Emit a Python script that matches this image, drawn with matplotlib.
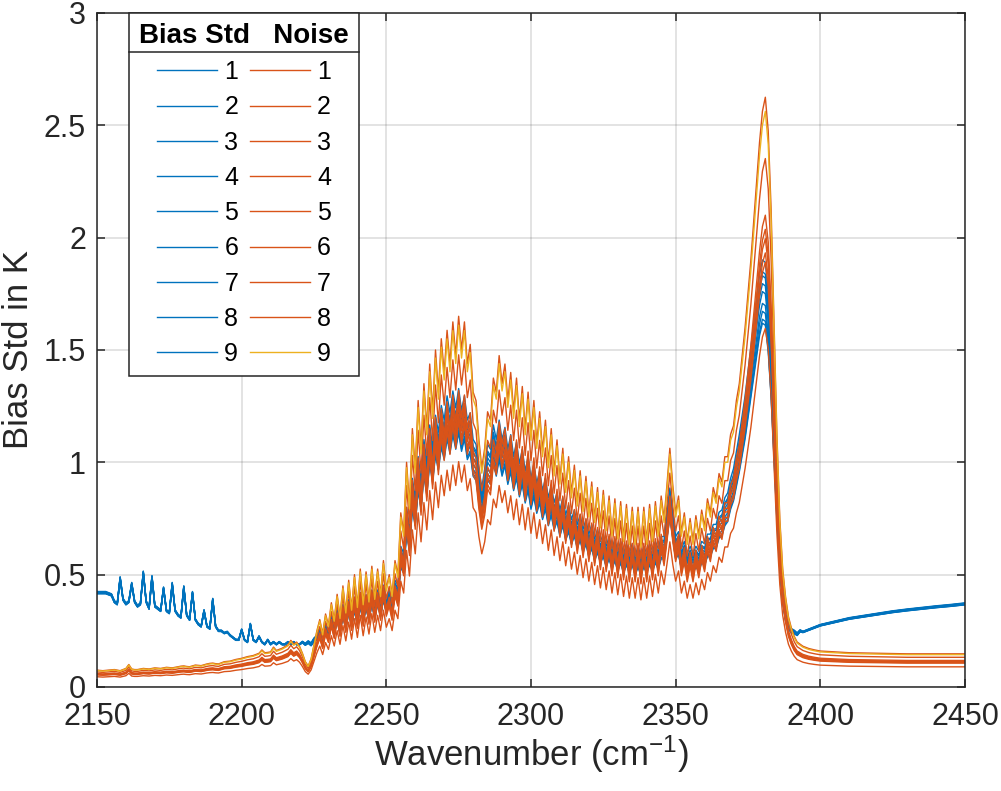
import numpy as np
import matplotlib
matplotlib.use('Agg')
import matplotlib.pyplot as plt
from matplotlib.lines import Line2D

plt.rcParams['font.family'] = ['Liberation Sans', 'DejaVu Sans']
plt.rcParams['mathtext.fontset'] = 'custom'
plt.rcParams['mathtext.rm'] = 'Liberation Sans'
plt.rcParams['mathtext.default'] = 'regular'

BLUE = '#0072BD'
ORANGE = '#D95319'
YELLOW = '#EDB120'
DARK = '#262626'

# 1 cm-1 grid up to 2392, tail sampled coarser (flat part)
wn_dense = np.arange(2150, 2393)

# bias std (median channel)
bias_std_dense = [
    0.42, 0.42, 0.42, 0.42, 0.415, 0.41, 0.38, 0.37, 0.485, 0.39,   # 2150
    0.37, 0.38, 0.46, 0.38, 0.36, 0.37, 0.51, 0.38, 0.35, 0.49,     # 2160
    0.36, 0.35, 0.34, 0.44, 0.34, 0.33, 0.46, 0.34, 0.32, 0.31,     # 2170
    0.445, 0.32, 0.30, 0.42, 0.30, 0.28, 0.27, 0.34, 0.27, 0.26,    # 2180
    0.39, 0.27, 0.25, 0.25, 0.24, 0.245, 0.23, 0.22, 0.21, 0.21,    # 2190
    0.255, 0.21, 0.20, 0.28, 0.21, 0.20, 0.225, 0.20, 0.19, 0.21,   # 2200
    0.19, 0.20, 0.19, 0.20, 0.19, 0.19, 0.20, 0.19, 0.20, 0.19,     # 2210
    0.19, 0.20, 0.19, 0.20, 0.19, 0.21, 0.22, 0.25, 0.21, 0.27,     # 2220
    0.23, 0.30, 0.25, 0.32, 0.26, 0.34, 0.28, 0.36, 0.29, 0.37,     # 2230
    0.30, 0.39, 0.31, 0.38, 0.32, 0.40, 0.33, 0.40, 0.34, 0.42,     # 2240
    0.36, 0.40, 0.36, 0.44, 0.42, 0.58, 0.55, 0.74, 0.66, 0.86,     # 2250
    0.78, 0.95, 0.86, 1.02, 0.93, 1.08, 0.99, 1.12, 1.05, 1.16,     # 2260
    1.10, 1.20, 1.13, 1.22, 1.15, 1.23, 1.14, 1.20, 1.10, 1.13,     # 2270
    1.02, 1.00, 0.90, 0.82, 0.90, 1.00, 0.98, 1.08, 1.02, 1.10,     # 2280
    1.02, 1.07, 0.98, 1.04, 0.95, 1.01, 0.92, 0.98, 0.89, 0.95,     # 2290
    0.86, 0.92, 0.84, 0.89, 0.81, 0.86, 0.78, 0.83, 0.76, 0.80,     # 2300
    0.73, 0.78, 0.71, 0.75, 0.69, 0.73, 0.67, 0.71, 0.65, 0.69,     # 2310
    0.63, 0.67, 0.61, 0.65, 0.60, 0.63, 0.58, 0.62, 0.57, 0.61,     # 2320
    0.56, 0.60, 0.55, 0.59, 0.55, 0.59, 0.54, 0.58, 0.54, 0.58,     # 2330
    0.55, 0.59, 0.56, 0.60, 0.57, 0.62, 0.62, 0.72, 0.82, 0.72,     # 2340
    0.62, 0.64, 0.57, 0.60, 0.55, 0.58, 0.55, 0.58, 0.56, 0.60,     # 2350
    0.59, 0.63, 0.63, 0.67, 0.67, 0.72, 0.73, 0.78, 0.80, 0.86,     # 2360
    0.90, 0.97, 1.04, 1.12, 1.20, 1.30, 1.40, 1.50, 1.60, 1.70,     # 2370
    1.76, 1.75, 1.62, 1.40, 1.10, 0.80, 0.56, 0.40, 0.31, 0.27,     # 2380
    0.25, 0.245, 0.235,                                             # 2390
]
wn_tail_bias = [2393, 2394, 2396, 2398, 2400, 2405, 2410, 2415, 2420, 2425,
                2430, 2435, 2440, 2445, 2450]
bias_std_tail = [0.25, 0.245, 0.255, 0.265, 0.275, 0.29, 0.305, 0.315, 0.325,
                 0.335, 0.343, 0.35, 0.357, 0.363, 0.37]

# noise (median channel)
noise_dense = [
    0.060, 0.059, 0.058, 0.059, 0.060, 0.061, 0.062, 0.060, 0.058, 0.062,  # 2150
    0.066, 0.080, 0.064, 0.062, 0.062, 0.064, 0.066, 0.065, 0.064, 0.066,  # 2160
    0.068, 0.067, 0.066, 0.068, 0.070, 0.069, 0.068, 0.070, 0.072, 0.074,  # 2170
    0.075, 0.073, 0.072, 0.075, 0.078, 0.077, 0.076, 0.079, 0.082, 0.084,  # 2180
    0.085, 0.083, 0.082, 0.086, 0.090, 0.091, 0.092, 0.095, 0.098, 0.100,  # 2190
    0.102, 0.105, 0.108, 0.110, 0.112, 0.116, 0.120, 0.132, 0.122, 0.123,  # 2200
    0.125, 0.142, 0.130, 0.134, 0.138, 0.144, 0.150, 0.166, 0.152, 0.160,  # 2210
    0.145, 0.120, 0.090, 0.075, 0.100, 0.150, 0.20, 0.24, 0.19, 0.26,      # 2220
    0.22, 0.30, 0.24, 0.33, 0.25, 0.36, 0.27, 0.38, 0.28, 0.40,            # 2230
    0.29, 0.42, 0.30, 0.41, 0.31, 0.43, 0.32, 0.42, 0.33, 0.45,            # 2240
    0.35, 0.40, 0.33, 0.45, 0.40, 0.62, 0.55, 0.80, 0.65, 0.92,            # 2250
    0.78, 1.02, 0.85, 1.08, 0.92, 1.15, 0.98, 1.20, 1.05, 1.24,            # 2260
    1.12, 1.27, 1.15, 1.30, 1.18, 1.32, 1.20, 1.30, 1.15, 1.22,            # 2270
    1.05, 1.02, 0.88, 0.78, 0.85, 0.98, 0.95, 1.10, 1.05, 1.18,            # 2280
    1.08, 1.15, 1.02, 1.12, 0.98, 1.10, 0.95, 1.07, 0.92, 1.05,            # 2290
    0.90, 1.02, 0.87, 0.98, 0.84, 0.95, 0.80, 0.92, 0.77, 0.88,            # 2300
    0.74, 0.85, 0.71, 0.82, 0.69, 0.79, 0.66, 0.77, 0.64, 0.75,            # 2310
    0.62, 0.73, 0.60, 0.71, 0.58, 0.70, 0.57, 0.68, 0.55, 0.67,            # 2320
    0.54, 0.66, 0.53, 0.65, 0.52, 0.64, 0.52, 0.64, 0.51, 0.64,            # 2330
    0.52, 0.65, 0.53, 0.66, 0.55, 0.68, 0.60, 0.72, 0.85, 0.72,            # 2340
    0.62, 0.68, 0.55, 0.62, 0.52, 0.60, 0.52, 0.61, 0.54, 0.63,            # 2350
    0.57, 0.67, 0.62, 0.71, 0.67, 0.76, 0.73, 0.82, 0.82, 0.90,            # 2360
    0.93, 1.02, 1.08, 1.18, 1.28, 1.40, 1.52, 1.66, 1.80, 1.94,            # 2370
    2.05, 2.10, 1.98, 1.70, 1.30, 0.90, 0.60, 0.42, 0.32, 0.25,            # 2380
    0.21, 0.18, 0.16,                                                      # 2390
]
wn_tail_noise = [2394, 2396, 2398, 2400, 2410, 2420, 2430, 2440, 2450]
noise_tail = [0.145, 0.137, 0.132, 0.128, 0.122, 0.12, 0.118, 0.118, 0.118]

channels = ['1', '2', '3', '4', '5', '6', '7', '8', '9']
# per-channel departure from the median curve
bias_spread = [-0.07, -0.03, 0.0, 0.05, 0.08, -0.05, 0.02, 0.04, -0.08]
noise_scale = [0.92, 1.0, 0.95, 1.12, 0.97, 1.25, 0.90, 0.76, 1.22]
# bias std channels only fan out inside the absorption band
spread_wn = [2150, 2220, 2232, 2384, 2394, 2450]
spread_weight = [0.15, 0.15, 1.0, 1.0, 0.15, 0.15]

wn_bias = np.concatenate([wn_dense, wn_tail_bias])
bias_base = np.concatenate([bias_std_dense, bias_std_tail])
wn_noise = np.concatenate([wn_dense, wn_tail_noise])
noise_base = np.concatenate([noise_dense, noise_tail])
weight = np.interp(wn_bias, spread_wn, spread_weight)

fig = plt.figure(figsize=(10.01, 7.91), dpi=100)
ax = fig.add_axes([0.0969, 0.1315, 0.8671, 0.8521])

handles = []
for ch, d in zip(channels, bias_spread):
    h, = ax.plot(wn_bias, bias_base * (1 + d * weight), color=BLUE, lw=1.0)
    handles.append(h)
for ch, s in zip(channels, noise_scale):
    col = YELLOW if ch == '9' else ORANGE
    h, = ax.plot(wn_noise, noise_base * s, color=col, lw=1.0)
    handles.append(h)

ax.set_xlim(2150, 2450)
ax.set_ylim(0, 3)
ax.set_xticks(np.arange(2150, 2451, 50))
ax.set_yticks([0, 0.5, 1, 1.5, 2, 2.5, 3])
ax.set_yticklabels(['0', '0.5', '1', '1.5', '2', '2.5', '3'])
ax.tick_params(direction='in', length=6, width=1.1, top=True, right=True,
               labelsize=22, colors=DARK, pad=8)
ax.tick_params(axis='x', pad=11)
ax.grid(True, color=DARK, alpha=0.15, lw=1.2)
for sp in ax.spines.values():
    sp.set_linewidth(1.1)
    sp.set_color(DARK)

ax.set_xlabel('Wavenumber (cm$^{-1}$)', fontsize=25, color=DARK, labelpad=1)
ax.set_ylabel('Bias Std in K', fontsize=25, color=DARK, labelpad=6)

leg = ax.legend(handles, channels + channels, ncol=2, loc='upper left',
                bbox_to_anchor=(0.0369, 1.0), borderaxespad=0, fontsize=18,
                title='Bias Std   Noise',
                title_fontproperties={'weight': 'bold', 'size': 20},
                handlelength=2.4, handletextpad=0.3, columnspacing=0.45,
                labelspacing=0.45, borderpad=0.4, fancybox=False,
                edgecolor=DARK, framealpha=1)
leg.get_frame().set_linewidth(1.1)

# line under the column headers
fig.canvas.draw()
tb = leg.get_title().get_window_extent()
fb = leg.get_frame().get_window_extent()
inv = fig.transFigure.inverted()
y_sep = tb.y0 - 3
(x0, y0), (x1, _) = inv.transform([(fb.x0, y_sep), (fb.x1, y_sep)])
fig.add_artist(Line2D([x0, x1], [y0, y0], color=DARK, lw=1.1))

fig.savefig('out.png', dpi=100)
